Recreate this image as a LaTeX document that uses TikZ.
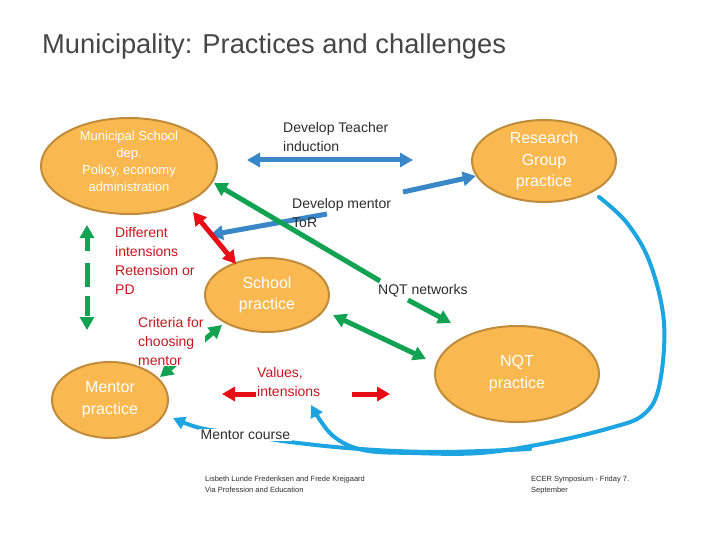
\documentclass[tikz,border=0pt]{standalone}
\usepackage{fontspec}
\setmainfont{Liberation Sans}
\usetikzlibrary{arrows.meta,shapes.geometric}
\definecolor{orFill}{RGB}{250,185,80}
\definecolor{orLine}{RGB}{192,140,60}
\definecolor{arrBlue}{RGB}{58,135,200}
\definecolor{arrGreen}{RGB}{18,163,82}
\definecolor{arrRed}{RGB}{232,12,22}
\definecolor{txtRed}{RGB}{200,20,30}
\definecolor{arrCyan}{RGB}{28,165,225}
\definecolor{txtDark}{RGB}{45,45,45}
\definecolor{txtTitle}{RGB}{70,70,70}
\tikzset{
  practice/.style={ellipse, draw=orLine, line width=2pt, fill=orFill, text=white, align=center, inner sep=0pt},
  intext/.style={text=white, align=center, inner sep=0pt},
  darklbl/.style={text=txtDark, align=left, inner sep=0pt, font=\fontsize{14}{19}\selectfont},
  redlbl/.style={darklbl, text=txtRed},
  bluearr/.style={draw=arrBlue, line width=5pt},
  greenarr/.style={draw=arrGreen, line width=5pt},
  redarr/.style={draw=arrRed, line width=5pt},
  cyanarr/.style={draw=arrCyan, line width=4pt, line cap=round, line join=round},
  footer/.style={text=txtDark, align=left, inner sep=0pt, anchor=north west, font=\fontsize{7.5}{11}\selectfont},
}
\begin{document}
\begin{tikzpicture}[x=1pt,y=-1pt,>={Triangle[length=13pt,width=14pt]}]
\useasboundingbox (0,0) rectangle (720,540);
\fill[white] (0,0) rectangle (720,540);

% title
\node[anchor=west, inner sep=0pt, text=txtTitle, font=\fontsize{27.3}{32}\selectfont] (title) at (42,46) {Municipality: Practices and challenges};

% ellipses
\node[practice, minimum width=176pt, minimum height=96pt] (muni) at (129,166) {};
\node[intext, font=\fontsize{13}{17}\selectfont] (muniText) at (129,161) {Municipal School\\dep.\\Policy, economy\\administration};
\node[practice, minimum width=144pt, minimum height=74pt, font=\fontsize{16}{21.5}\selectfont] (research) at (544,161) {Research\\Group\\practice};
\node[practice, minimum width=124pt, minimum height=74pt, font=\fontsize{16}{21}\selectfont] (school) at (267,295) {School\\practice};
\node[practice, minimum width=164pt, minimum height=96pt, font=\fontsize{16}{22}\selectfont] (nqt) at (517,374) {NQT\\practice};
\node[practice, minimum width=116pt, minimum height=76pt, font=\fontsize{16}{22}\selectfont] (mentor) at (110,400) {Mentor\\practice};

% coordinates
\coordinate (tiL) at (247,160);
\coordinate (tiR) at (413,160);
\coordinate (torA) at (403,192);
\coordinate (torB) at (327,214);
\coordinate (torBtip) at (210,235);
\coordinate (gM) at (214,183);
\coordinate (gN1) at (380,281);
\coordinate (gN2) at (408,300);
\coordinate (gN3) at (451,323);
\coordinate (gS) at (333,315);
\coordinate (gN) at (426,359);
\coordinate (dvT) at (87,225);
\coordinate (dvB) at (87,330);
\coordinate (rM) at (193,212);
\coordinate (rS) at (236,264);
\coordinate (gcM) at (160,377);
\coordinate (gcS) at (222,325);
\coordinate (vL) at (222,394);
\coordinate (vLs) at (256,394);
\coordinate (vRs) at (352,394);
\coordinate (vR) at (390,394);

% blue arrows
\draw[bluearr,<->] (tiL) -- (tiR);
\draw[bluearr,->] (torA) -- (research);
\draw[bluearr,->] (torB) -- (torBtip);

% green arrows
\draw[greenarr,->] (gN1) -- (gM);
\draw[greenarr,->] (gN2) -- (gN3);
\draw[greenarr,<->] (gS) -- (gN);
\draw[greenarr,<->, dash pattern=on 14pt off 12pt on 24pt off 9pt on 20pt off 60pt] (dvT) -- (dvB);
\draw[greenarr,<->] (gcM) -- (gcS);

% red arrows
\draw[redarr,<->] (rM) -- (rS);
\draw[redarr,->] (vLs) -- (vL);
\draw[redarr,->] (vRs) -- (vR);

% cyan curves
\draw[cyanarr,-{Triangle[length=12pt,width=13pt]}] plot[smooth, tension=0.6] coordinates {(599,197) (627,223) (650,263) (664,323) (659,387) (643,415) (610,428) (547,443) (480,453) (413,453) (363,450) (332,435) (311,405)};
\draw[cyanarr,-{Triangle[length=12pt,width=13pt]}] plot[smooth, tension=0.6] coordinates {(530,449) (440,452) (360,449) (290,442) (240,434) (200,428) (173,418)};

% labels
\node[darklbl, anchor=north west] (lblTI) at (283,122) {Develop Teacher\\induction};
\node[darklbl, anchor=north west] (lblToR) at (292,198) {Develop mentor\\ToR};
\node[darklbl, anchor=west] (lblNQTn) at (378,291) {NQT networks};
\node[redlbl, anchor=north west] (lblDiff) at (115,227) {Different\\intensions\\Retension or\\PD};
\node[redlbl, anchor=north west, fill=white, inner sep=1pt] (lblCrit) at (137,316) {Criteria for\\choosing\\mentor};
\node[redlbl, anchor=north west] (lblVal) at (257,367) {Values,\\intensions};
\node[darklbl, anchor=west, fill=white, inner sep=1.5pt] (lblMC) at (199,435) {Mentor course};

% footer
\node[footer] (footL) at (205,476) {Lisbeth Lunde Frederiksen and Frede Krejgaard\\Via Profession and Education};
\node[footer] (footR) at (531,476) {ECER Symposium - Friday 7.\\September};
\end{tikzpicture}
\end{document}
